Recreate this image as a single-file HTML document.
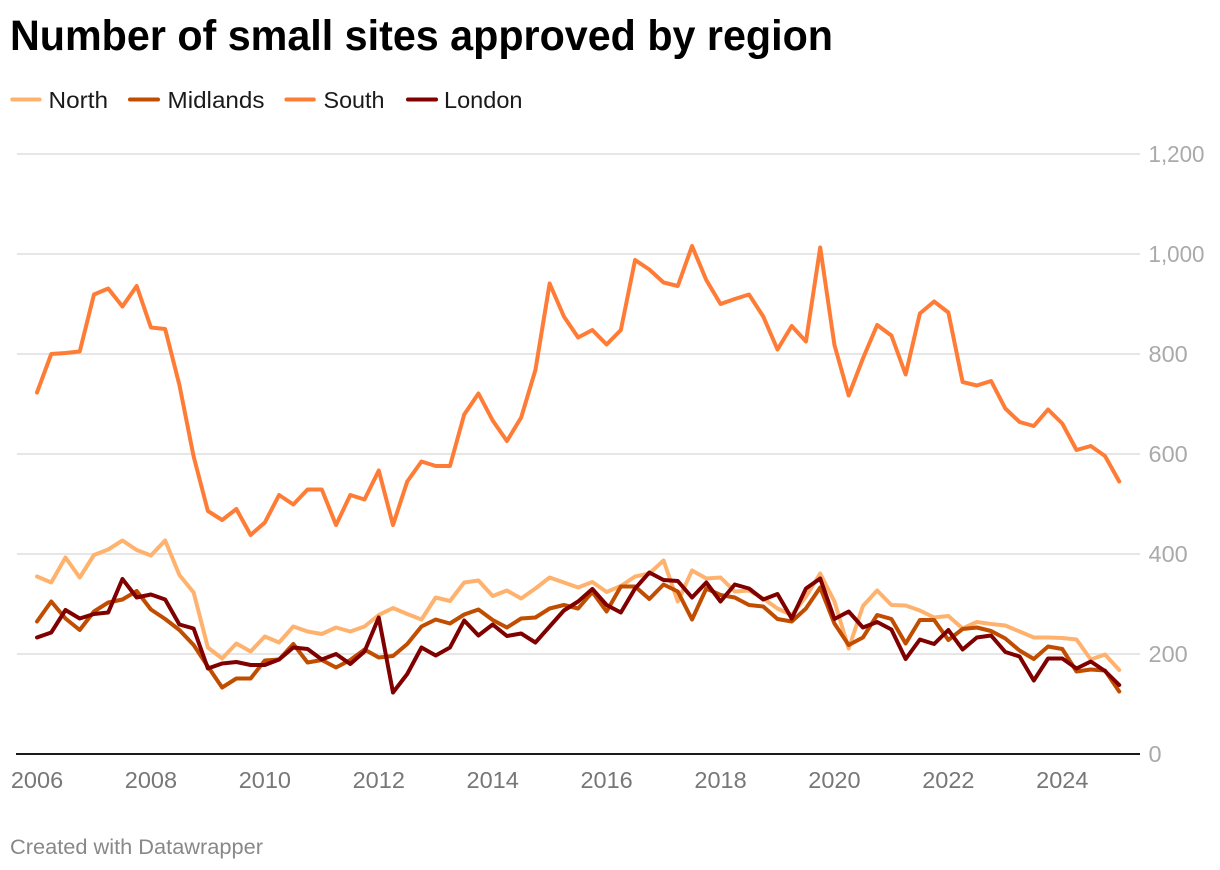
<!DOCTYPE html>
<html lang="en">
<head>
<meta charset="utf-8">
<title>Number of small sites approved by region</title>
<style>
  html, body { margin: 0; padding: 0; background: #ffffff; }
  body { width: 1220px; height: 870px; overflow: hidden; }
  svg { display: block; font-family: "Liberation Sans", sans-serif; }
</style>
</head>
<body>
<svg id="chart" width="1220" height="870" viewBox="0 0 1220 870" xmlns="http://www.w3.org/2000/svg">
  <text x="10" y="50" font-size="43" font-weight="700" fill="#000000" textLength="823" lengthAdjust="spacingAndGlyphs">Number of small sites approved by region</text>

  <g>
    <g>
      <line x1="12.3" x2="39.6" y1="99.5" y2="99.5" stroke="#ffb26e" stroke-width="4" stroke-linecap="round"/>
      <text x="48.5" y="108" font-size="23.5" fill="#1a1a1a" textLength="59.5" lengthAdjust="spacingAndGlyphs">North</text>
    </g>
    <g>
      <line x1="130" x2="158" y1="99.5" y2="99.5" stroke="#c04d00" stroke-width="4" stroke-linecap="round"/>
      <text x="167.5" y="108" font-size="23.5" fill="#1a1a1a" textLength="97" lengthAdjust="spacingAndGlyphs">Midlands</text>
    </g>
    <g>
      <line x1="286.4" x2="313.8" y1="99.5" y2="99.5" stroke="#ff7c36" stroke-width="4" stroke-linecap="round"/>
      <text x="323.5" y="108" font-size="23.5" fill="#1a1a1a" textLength="61" lengthAdjust="spacingAndGlyphs">South</text>
    </g>
    <g>
      <line x1="408" x2="436" y1="99.5" y2="99.5" stroke="#800000" stroke-width="4" stroke-linecap="round"/>
      <text x="444" y="108" font-size="23.5" fill="#1a1a1a" textLength="78.5" lengthAdjust="spacingAndGlyphs">London</text>
    </g>
  </g>

  <g id="grid"></g>
  <g id="series"></g>
  <line x1="16" x2="1140" y1="754" y2="754" stroke="#1a1a1a" stroke-width="2"/>
  <g id="yticks"></g>
  <g id="xticks"></g>

  <text x="10" y="854" font-size="21.5" fill="#888888" textLength="253" lengthAdjust="spacingAndGlyphs">Created with Datawrapper</text>
</svg>

<script>
const categories = [
  "2006 Q1","2006 Q2","2006 Q3","2006 Q4","2007 Q1","2007 Q2","2007 Q3","2007 Q4",
  "2008 Q1","2008 Q2","2008 Q3","2008 Q4","2009 Q1","2009 Q2","2009 Q3","2009 Q4",
  "2010 Q1","2010 Q2","2010 Q3","2010 Q4","2011 Q1","2011 Q2","2011 Q3","2011 Q4",
  "2012 Q1","2012 Q2","2012 Q3","2012 Q4","2013 Q1","2013 Q2","2013 Q3","2013 Q4",
  "2014 Q1","2014 Q2","2014 Q3","2014 Q4","2015 Q1","2015 Q2","2015 Q3","2015 Q4",
  "2016 Q1","2016 Q2","2016 Q3","2016 Q4","2017 Q1","2017 Q2","2017 Q3","2017 Q4",
  "2018 Q1","2018 Q2","2018 Q3","2018 Q4","2019 Q1","2019 Q2","2019 Q3","2019 Q4",
  "2020 Q1","2020 Q2","2020 Q3","2020 Q4","2021 Q1","2021 Q2","2021 Q3","2021 Q4",
  "2022 Q1","2022 Q2","2022 Q3","2022 Q4","2023 Q1","2023 Q2","2023 Q3","2023 Q4",
  "2024 Q1","2024 Q2","2024 Q3","2024 Q4","2025 Q1"
];
const north = [355,343,393,353,398,409,427,408,397,427,358,323,213,191,221,205,235,223,255,245,240,253,245,255,278,292,280,269,313,306,343,347,316,327,311,331,353,343,333,344,324,336,355,361,387,305,367,351,353,325,327,311,291,278,315,361,305,211,296,327,298,297,287,273,276,251,264,260,257,245,233,233,232,229,189,199,168];
const midlands = [265,305,271,248,285,303,309,326,289,270,248,218,175,133,151,151,187,189,220,183,188,173,188,209,193,196,220,255,269,261,279,289,268,253,271,273,291,298,291,324,285,335,335,310,339,325,269,331,318,313,298,295,270,265,291,333,261,218,233,278,270,221,268,268,228,250,253,246,231,207,190,215,210,165,169,167,125];
const south = [723,800,802,805,919,931,895,936,853,850,738,595,486,468,490,438,463,518,499,529,529,458,518,509,567,458,545,585,576,576,679,721,667,626,673,768,941,875,833,848,819,848,988,969,943,936,1016,948,900,910,919,875,809,856,825,1013,818,717,791,858,837,759,881,905,883,744,737,746,691,664,656,689,661,608,616,596,545];
const london = [233,243,288,271,280,283,350,313,319,309,259,251,171,181,184,178,178,189,213,210,189,200,180,205,273,123,160,213,197,213,267,237,259,236,241,223,255,287,305,330,298,283,331,363,348,346,313,343,305,339,331,309,320,271,331,351,270,285,253,264,249,190,229,220,248,209,233,237,204,195,147,191,191,171,185,166,138];
const xTickLabels = ["2006","2008","2010","2012","2014","2016","2018","2020","2022","2024"];
const yTickLabels = ["0","200","400","600","800","1,000","1,200"];

const SVG_NS = "http://www.w3.org/2000/svg";
const timeOf = function (c) { return Number(c.slice(0, 4)) + (Number(c.slice(6)) - 1) / 4; };
const xScale = function (t) { return 37 + (t - 2006) * 56.96; };
const yScale = function (v) { return 754 - v * 0.5; };

const gridGroup = document.getElementById("grid");
const yTickGroup = document.getElementById("yticks");
yTickLabels.forEach(function (label) {
  const v = Number(label.replace(",", ""));
  if (v !== 0) {
    const gridline = document.createElementNS(SVG_NS, "line");
    
    
    gridline.setAttribute("x1", 17);
    gridline.setAttribute("x2", 1140);
    gridline.setAttribute("y1", yScale(v));
    gridline.setAttribute("y2", yScale(v));
    gridline.setAttribute("stroke", "#e6e6e6");
    gridline.setAttribute("stroke-width", 2);
    gridGroup.appendChild(gridline);
  }
  const yLabel = document.createElementNS(SVG_NS, "text");
  
  
  yLabel.setAttribute("x", 1148.5);
  yLabel.setAttribute("y", yScale(v) + 8);
  yLabel.setAttribute("font-size", 23.5);
  yLabel.setAttribute("fill", "#aaaaaa");
  if (label.indexOf(",") !== -1) {
    yLabel.setAttribute("textLength", 56);
    yLabel.setAttribute("lengthAdjust", "spacingAndGlyphs");
  }
  yLabel.textContent = label;
  yTickGroup.appendChild(yLabel);
});

const xTickGroup = document.getElementById("xticks");
xTickLabels.forEach(function (label) {
  const xLabel = document.createElementNS(SVG_NS, "text");
  
  
  xLabel.setAttribute("x", xScale(Number(label)));
  xLabel.setAttribute("y", 788);
  xLabel.setAttribute("font-size", 23.5);
  xLabel.setAttribute("fill", "#777777");
  xLabel.setAttribute("text-anchor", "middle");
  xLabel.textContent = label;
  xTickGroup.appendChild(xLabel);
});

const seriesGroup = document.getElementById("series");
function drawSeries(values, color, name) {
  const line = document.createElementNS(SVG_NS, "polyline");
  
  
  line.setAttribute("fill", "none");
  line.setAttribute("stroke", color);
  line.setAttribute("stroke-width", 4);
  line.setAttribute("stroke-linejoin", "round");
  line.setAttribute("stroke-linecap", "round");
  line.setAttribute("points", values.map(function (v, i) {
    return xScale(timeOf(categories[i])).toFixed(2) + "," + yScale(v).toFixed(2);
  }).join(" "));
  seriesGroup.appendChild(line);
}
drawSeries(north, "#ffb26e", "series-north");
drawSeries(midlands, "#c04d00", "series-midlands");
drawSeries(south, "#ff7c36", "series-south");
drawSeries(london, "#800000", "series-london");
</script>
</body>
</html>
